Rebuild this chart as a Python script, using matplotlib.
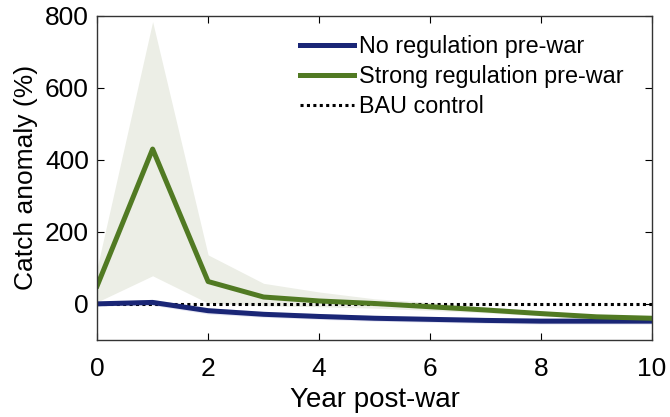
import numpy as np
import matplotlib.pyplot as plt

plt.rcParams['font.family'] = ['Liberation Sans', 'DejaVu Sans']
plt.rcParams['font.size'] = 19

years = np.arange(0, 11)
# mean catch anomaly (%)
no_reg = [0, 4, -19, -29, -35, -40, -43, -46, -48, -48, -48]
no_reg_lo = [-5, -4, -28, -37, -43, -48, -51, -54, -56, -56, -56]
no_reg_hi = [5, 12, -11, -21, -27, -32, -35, -38, -40, -40, -40]
strong_reg = [50, 430, 62, 19, 8, 1, -8, -17, -27, -36, -40]
strong_lo = [5, 78, 2, -5, -8, -12, -18, -25, -33, -42, -46]
strong_hi = [100, 784, 136, 57, 33, 14, 4, -8, -20, -30, -34]

fig, ax = plt.subplots(figsize=(6.7, 4.17), dpi=100)
fig.subplots_adjust(left=0.145, right=0.973, top=0.962, bottom=0.185)

ax.fill_between(years, strong_lo, strong_hi, color='#eceee6', lw=0)
ax.fill_between(years, no_reg_lo, no_reg_hi, color='#e4e4f2', lw=0)
ax.axhline(0, color='black', ls=(0, (1, 1.1)), lw=2.2, label='BAU control')
ax.plot(years, no_reg, color='#1a2676', lw=3.6, label='No regulation pre-war')
ax.plot(years, strong_reg, color='#517a23', lw=3.6, label='Strong regulation pre-war')

ax.set_xlim(0, 10)
ax.set_ylim(-100, 800)
ax.set_xticks([0, 2, 4, 6, 8, 10])
ax.set_yticks([0, 200, 400, 600, 800])
ax.tick_params(direction='in', length=5, top=True, right=True, pad=12)
ax.tick_params(axis='y', pad=6)
for s in ax.spines.values():
    s.set_linewidth(1)
    s.set_color('#333333')
ax.set_xlabel('Year post-war', fontsize=20, labelpad=5)
ax.set_ylabel('Catch anomaly (%)', labelpad=5)

h, l = ax.get_legend_handles_labels()
leg = ax.legend([h[1], h[2], h[0]], [l[1], l[2], l[0]], loc='upper right',
                bbox_to_anchor=(0.965, 0.97),
                frameon=False, fontsize=16.8, handlelength=2.3,
                handletextpad=0.2, labelspacing=0.3, borderaxespad=0.0)

plt.savefig('out.png')
